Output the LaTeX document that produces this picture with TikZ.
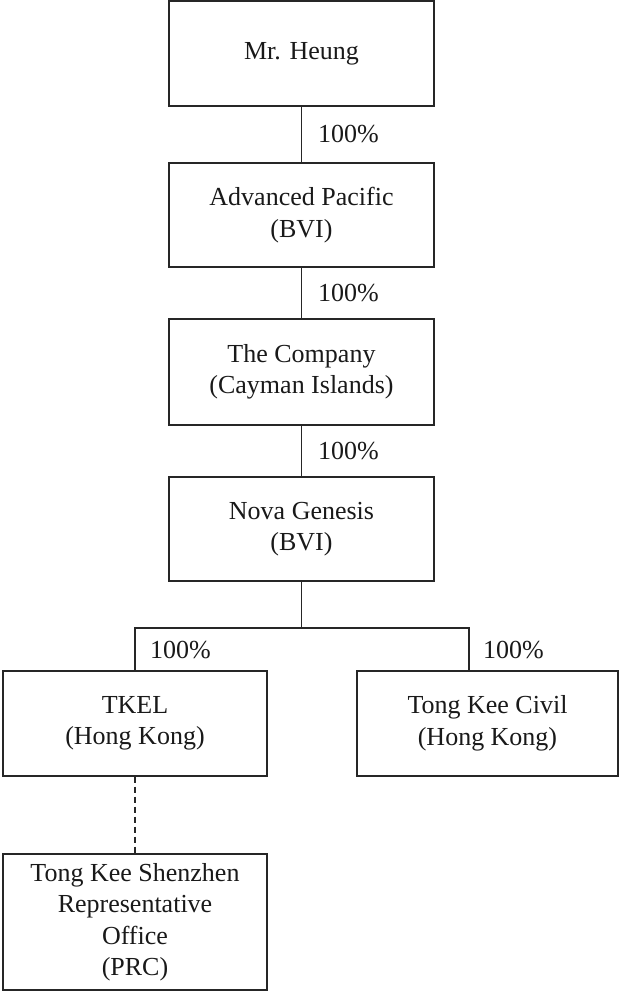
\documentclass[tikz,border=0pt]{standalone}
\usepackage{fontspec}
\setmainfont{Liberation Serif}
\begin{document}
\begin{tikzpicture}[x=1pt,y=-1pt,
  ent/.style={draw=black!85, line width=1.3pt, rectangle, align=center, inner sep=0pt,
    font=\fontsize{26}{31.5}\selectfont, text=black!90},
  pct/.style={anchor=west, inner sep=0pt, font=\fontsize{26}{31.5}\selectfont, text=black!90},
  link/.style={draw=black!85, line width=1.2pt}]
\useasboundingbox (0,0) rectangle (620,992);
\node[ent, minimum width=265pt, minimum height=105pt] (heung) at (301.5,53.5) {Mr. Heung};
\node[ent, minimum width=265pt, minimum height=104pt] (adv) at (301.5,215) {Advanced Pacific\\(BVI)};
\node[ent, minimum width=265pt, minimum height=106pt] (comp) at (301.5,372) {The Company\\(Cayman Islands)};
\node[ent, minimum width=265pt, minimum height=104pt] (nova) at (301.5,529) {Nova Genesis\\(BVI)};
\node[ent, minimum width=264pt, minimum height=105pt] (tkel) at (135,723.5) {TKEL\\(Hong Kong)};
\node[ent, minimum width=261pt, minimum height=105pt] (civil) at (487.5,723.5) {Tong Kee Civil\\(Hong Kong)};
\node[ent, minimum width=264pt, minimum height=136pt] (shen) at (135,922) {Tong Kee Shenzhen\\Representative\\Office\\(PRC)};
\coordinate (bl) at (135,628);
\coordinate (br) at (469,628);
\draw[link] (heung.south) -- (adv.north);
\draw[link] (adv.south) -- (comp.north);
\draw[link] (comp.south) -- (nova.south |- comp.south) -- (nova.north);
\draw[link] (nova.south) -- (nova.south |- bl);
\draw[link] (tkel.north) -- (bl) -- (br) -- (br |- civil.north);
\draw[link, dash pattern=on 6pt off 4pt] (tkel.south) -- (shen.north);
\node[pct] (p1) at (318,134) {100\%};
\node[pct] (p2) at (318,293) {100\%};
\node[pct] (p3) at (318,451) {100\%};
\node[pct] (p4) at (150,650) {100\%};
\node[pct] (p5) at (483,650) {100\%};
\end{tikzpicture}
\end{document}
